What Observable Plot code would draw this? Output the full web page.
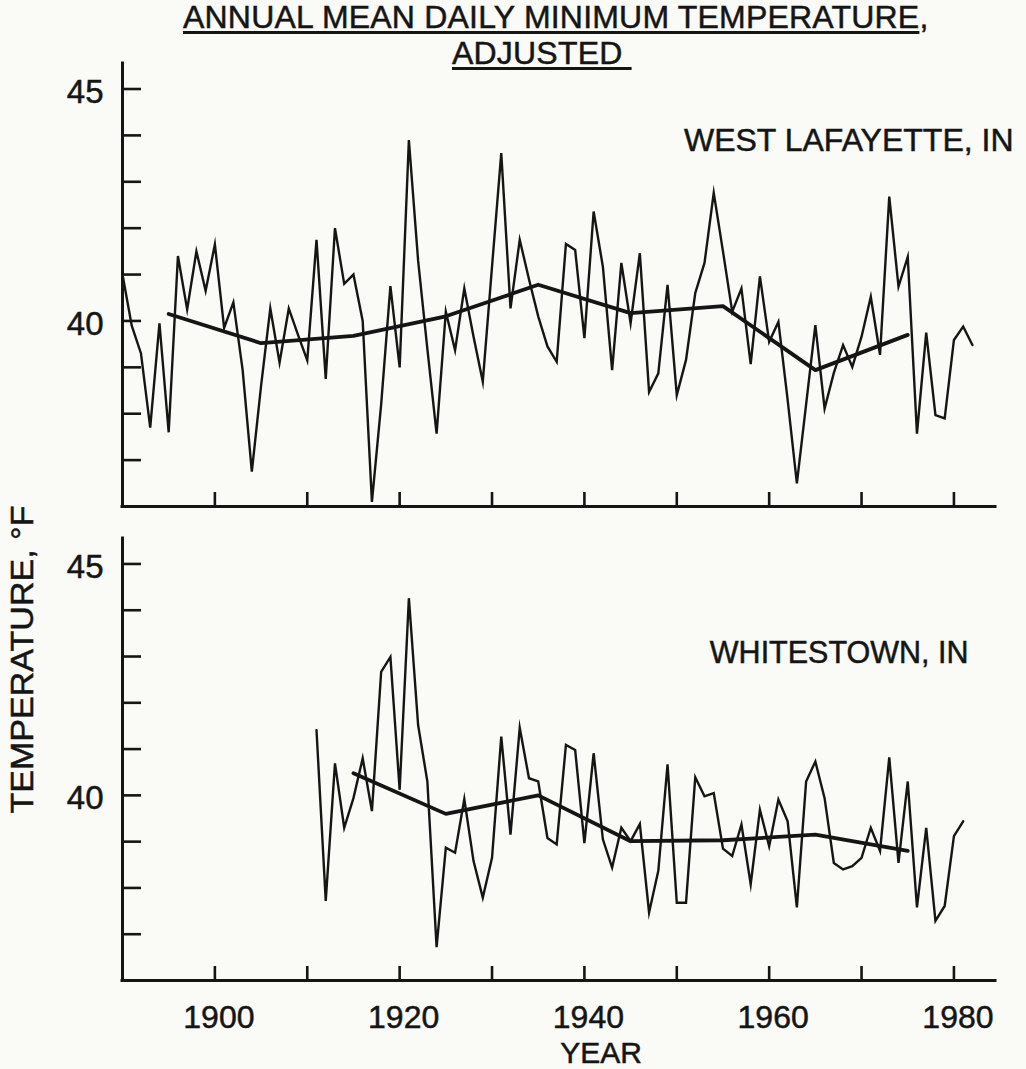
<!DOCTYPE html>
<html>
<head>
<meta charset="utf-8">
<script src="https://cdn.jsdelivr.net/npm/d3@7"></script>
<script src="https://cdn.jsdelivr.net/npm/@observablehq/plot@0.6"></script>
<style>
  html, body { margin: 0; padding: 0; background: #fafaf7; }
  #wrap { position: relative; width: 1026px; height: 1069px; overflow: hidden;
          font-family: "Liberation Sans", Arial, sans-serif; color: #151515; }
  .t { position: absolute; font-size: 32px; line-height: 29px; height: 29px; white-space: pre;
       letter-spacing: 0.2px; -webkit-text-stroke: 0.5px #151515; }
  .u { display: inline-block; line-height: 29px; height: 29px;
       text-decoration: underline; text-decoration-thickness: 2.5px; text-underline-offset: 3px; }
  .panel { position: absolute; left: 0; }
</style>
</head>
<body>
<div id="wrap">
  <div class="t" style="left:183px; top:2.5px;"><span class="u">ANNUAL MEAN DAILY MINIMUM TEMPERATURE</span>,</div>
  <div class="t" style="left:452px; top:38.5px;"><span class="u">ADJUSTED&#160;</span></div>
  <div id="p1" class="panel" style="top:0px;"></div>
  <div id="p2" class="panel" style="top:500px;"></div>
</div>
<script>
// ---------------- data ----------------
const westLafayetteStart = 1890;
const westLafayetteTemps = [
  41.0, 39.9, 39.3, 37.7, 39.95, 37.6, 41.4, 40.25, 41.5, 40.65,   // 1890-1899
  41.65, 39.85, 40.4, 38.95, 36.75, 38.6, 40.27, 39.1, 40.27, 39.7, // 1900-1909
  39.15, 41.75, 38.75, 42.0, 40.8, 41.0, 40.0, 36.1, 38.2, 40.75,   // 1910-1919
  39.0, 43.9, 41.3, 39.4, 37.57, 40.2, 39.37, 40.7, 39.66, 38.69,   // 1920-1929
  41.17, 43.62, 40.27, 41.75, 40.9, 40.1, 39.45, 39.12, 41.66, 41.53, // 1930-1939
  39.63, 42.36, 41.17, 38.94, 41.25, 39.95, 41.46, 38.47, 38.87, 40.78, // 1940-1949
  38.4, 39.16, 40.6, 41.25, 42.76, 41.5, 40.2, 40.7, 39.07, 40.96,  // 1950-1959
  39.55, 39.98, 38.3, 36.5, 38.2, 39.91, 38.11, 38.88, 39.48, 39.01, // 1960-1969
  39.66, 40.52, 39.27, 42.68, 40.74, 41.38, 37.57, 39.75, 37.97, 37.9, // 1970-1979
  39.59, 39.88, 39.48                                               // 1980-1982
];
const westLafayetteSmoothYears = [1895, 1905, 1915, 1925, 1935, 1945, 1955, 1965, 1975];
const westLafayetteSmooth      = [40.15, 39.52, 39.68, 40.1, 40.78, 40.17, 40.32, 38.94, 39.7];

const whitestownStart = 1911;
const whitestownTemps = [
  41.41, 37.72, 40.69, 39.3, 39.94, 40.8, 39.66, 42.67, 42.99,      // 1911-1919
  40.12, 44.26, 41.52, 40.3, 36.72, 38.87, 38.76, 39.92, 38.58, 37.79, // 1920-1929
  38.65, 41.27, 39.15, 41.46, 40.37, 40.3, 39.08, 38.94, 41.09, 40.98, // 1930-1939
  38.97, 40.91, 39.05, 38.44, 39.3, 39.01, 39.38, 37.47, 38.37, 40.67, // 1940-1949
  37.68, 37.68, 40.39, 39.98, 40.05, 38.85, 38.69, 39.37, 38.08, 39.69, // 1950-1959
  38.9, 39.91, 39.44, 37.58, 40.3, 40.73, 39.94, 38.54, 38.4, 38.47, // 1960-1969
  38.65, 39.3, 38.8, 40.82, 38.54, 40.3, 37.58, 39.3, 37.29, 37.61, // 1970-1979
  39.12, 39.44                                                      // 1980-1981
];
const whitestownSmoothYears = [1915, 1925, 1935, 1945, 1955, 1965, 1975];
const whitestownSmooth      = [40.48, 39.6, 40.0, 39.01, 39.03, 39.15, 38.8];

const stationLabels = ["WEST LAFAYETTE, IN", "WHITESTOWN, IN"];
const xTickValues  = [1900, 1910, 1920, 1930, 1940, 1950, 1960, 1970, 1980];
const xTickLabels  = [1900, 1920, 1940, 1960, 1980];
const yTickValues  = [37, 38, 39, 40, 41, 42, 43, 44, 45];
const yTickLabels  = [40, 45];
const xTitle = "YEAR";
const yTitle = "TEMPERATURE, °F";

// ---------------- build tables ----------------
const toRows = (start, temps) => temps.map((t, i) => ({year: start + i, temp: t}));
const toPairs = (years, temps) => years.map((y, i) => ({year: y, temp: temps[i]}));

const X_DOMAIN = [1890, 1984.5];
const Y_DOMAIN = [36, 45.55];
const INK = "#151515";
const W = 1026, ML = 122, MR = 31;
const innerW = W - ML - MR;

function panel({raw, smooth, label, labelSize, height, mt, mb, labelDx, labelDy, bottom}) {
  const innerH = height - mt - mb;
  const marks = [
    Plot.tickY(yTickValues, {y: d => d, insetRight: innerW - 19, stroke: INK, strokeWidth: 2.6}),
    Plot.tickX(xTickValues, {x: d => d, insetTop: innerH - 14, stroke: INK, strokeWidth: 2.6}),
    Plot.ruleX([X_DOMAIN[0]], {stroke: INK, strokeWidth: 3, strokeLinecap: "square"}),
    Plot.ruleY([Y_DOMAIN[0]], {stroke: INK, strokeWidth: 3, strokeLinecap: "square"}),
    Plot.axisY({ticks: yTickLabels, tickSize: 0, tickPadding: 19, fontSize: 33, dy: 3, label: null, fill: INK}),
    Plot.line(raw, {x: "year", y: "temp", stroke: INK, strokeWidth: 2.4, strokeLinejoin: "miter", strokeMiterlimit: 8}),
    Plot.line(smooth, {x: "year", y: "temp", stroke: INK, strokeWidth: 3.8}),
    Plot.text([label], {frameAnchor: "top-right", dx: labelDx, dy: labelDy, fontSize: labelSize,
                        textAnchor: "end", lineAnchor: "middle", fill: INK})
  ];
  if (bottom) {
    marks.push(
      Plot.axisX({ticks: xTickLabels, tickSize: 0, tickPadding: 25, fontSize: 32, dx: 4,
                  tickFormat: d => String(d), label: null, fill: INK}),
      Plot.text([xTitle], {frameAnchor: "bottom", dx: 42, dy: 61, fontSize: 30,
                           lineAnchor: "top", fill: INK}),
      Plot.text([yTitle], {frameAnchor: "left", rotate: -90, dx: -100, dy: -100, fontSize: 32,
                           textAnchor: "middle", lineAnchor: "middle", fill: INK})
    );
  }
  return Plot.plot({
    width: W, height,
    marginLeft: ML, marginRight: MR, marginTop: mt, marginBottom: mb,
    x: {domain: X_DOMAIN, axis: null},
    y: {domain: Y_DOMAIN, axis: null},
    style: {fontFamily: "Liberation Sans, Arial, sans-serif", background: "transparent", overflow: "visible", color: INK},
    marks
  });
}

const topPanel = panel({
  raw: toRows(westLafayetteStart, westLafayetteTemps),
  smooth: toPairs(westLafayetteSmoothYears, westLafayetteSmooth),
  label: stationLabels[0], labelSize: 32, height: 520, mt: 63, mb: 14,
  labelDx: 18, labelDy: 77, bottom: false
});
const bottomPanel = panel({
  raw: toRows(whitestownStart, whitestownTemps),
  smooth: toPairs(whitestownSmoothYears, whitestownSmooth),
  label: stationLabels[1], labelSize: 30.5, height: 569, mt: 38, mb: 89,
  labelDx: -27, labelDy: 115, bottom: true
});
document.getElementById("p1").appendChild(topPanel);
document.getElementById("p2").appendChild(bottomPanel);

// slightly heavier lettering, like the pen-drawn original
for (const svg of [topPanel, bottomPanel]) {
  d3.select(svg).selectAll("text")
    .style("stroke", INK).style("stroke-width", "0.5px").style("paint-order", "stroke");
}
// stretch the rotated axis title to its drawn length
d3.select(bottomPanel).selectAll("text").filter(function() { return this.textContent === yTitle; })
  .attr("textLength", 308).attr("lengthAdjust", "spacingAndGlyphs");
</script>
</body>
</html>
